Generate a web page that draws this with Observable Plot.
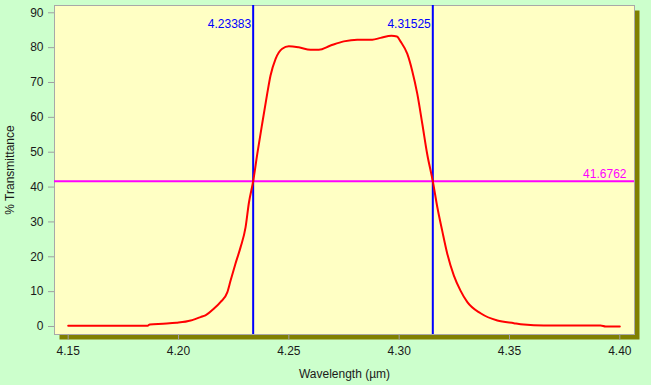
<!DOCTYPE html>
<html>
<head>
<meta charset="utf-8">
<script src="https://cdn.jsdelivr.net/npm/d3@7"></script>
<script src="https://cdn.jsdelivr.net/npm/@observablehq/plot@0.6"></script>
<style>
  html, body { margin: 0; padding: 0; background: #ccffcc; }
  #chart { width: 651px; height: 385px; overflow: hidden; }
</style>
</head>
<body>
<div id="chart"></div>
<script>
const wavelength = [4.150, 4.186, 4.187, 4.193, 4.199, 4.2055, 4.2078, 4.2100, 4.2122, 4.2160, 4.2190, 4.2221, 4.2236, 4.2258, 4.2281, 4.2304, 4.2319, 4.23383, 4.2357, 4.2379, 4.2402, 4.2417, 4.2440, 4.2470, 4.2500, 4.2545, 4.2598, 4.2636, 4.2689, 4.2749, 4.2810, 4.2878, 4.2916, 4.2965, 4.2990, 4.3006, 4.3037, 4.3059, 4.3082, 4.3105, 4.3127, 4.31525, 4.3173, 4.3195, 4.3218, 4.3248, 4.3278, 4.3309, 4.3369, 4.3445, 4.3520, 4.3565, 4.3656, 4.3913, 4.3936, 4.400];
const transmittance = [0.2, 0.2, 0.6, 0.8, 1.05, 1.7, 2.2, 2.7, 3.2, 5.1, 7.0, 9.8, 13.2, 18.0, 22.7, 28.5, 35.5, 41.68, 49.5, 58.1, 66.8, 72.0, 76.8, 79.7, 80.4, 80.1, 79.4, 79.4, 80.6, 81.8, 82.3, 82.3, 82.8, 83.4, 83.2, 81.8, 78.2, 73.4, 66.8, 58.1, 49.5, 41.68, 34.2, 27.5, 20.9, 14.6, 10.3, 7.0, 3.8, 1.7, 0.95, 0.57, 0.29, 0.29, 0.0, 0.0];
const cutoffWavelengths = [4.23383, 4.31525];
const cutoffLabels = ["4.23383", "4.31525"];
const halfLevel = [41.6762];
const halfLabel = ["41.6762"];
const xTicks = [4.15, 4.20, 4.25, 4.30, 4.35, 4.40];
const yTicks = [0, 10, 20, 30, 40, 50, 60, 70, 80, 90];

const data = wavelength.map((w, i) => ({w, t: transmittance[i]}));

const chart = Plot.plot({
  width: 651,
  height: 385,
  marginLeft: 54,
  marginRight: 17,
  marginTop: 5,
  marginBottom: 51,
  style: {background: "#ccffcc", fontFamily: "'Liberation Sans', Arial, sans-serif", fontSize: "12px", color: "#1a1a1a"},
  x: {domain: [4.14379, 4.40666]},
  y: {domain: [-2.295, 92.09]},
  marks: [
    Plot.frame({fill: "#808000", stroke: null, dx: 5, dy: 5}),
    Plot.frame({fill: "#ffffc4", stroke: "#a8a8a8"}),
    Plot.ruleY(halfLevel, {stroke: "#ff00ff", strokeWidth: 2}),
    Plot.ruleX(cutoffWavelengths, {stroke: "#0000ff", strokeWidth: 2}),
    Plot.line(data, {x: "w", y: "t", stroke: "#ff0000", strokeWidth: 2, curve: "monotone-x"}),
    Plot.text(cutoffWavelengths, {x: d => d, text: (d, i) => cutoffLabels[i], frameAnchor: "top", textAnchor: "end", dx: -2, dy: 14, fill: "#0000ff", fontSize: 12}),
    Plot.text(halfLevel, {y: d => d, text: (d, i) => halfLabel[i], frameAnchor: "right", textAnchor: "end", lineAnchor: "bottom", dx: -8, dy: -3, fill: "#ff00ff", fontSize: 12}),
    Plot.axisX({ticks: xTicks, tickFormat: d3.format(".2f"), tickSize: 6, tickPadding: 6, stroke: "#a0a0a0", fill: "#1a1a1a", label: "Wavelength (µm)", labelAnchor: "center", labelArrow: "none", labelOffset: 43}),
    Plot.axisY({ticks: yTicks, tickSize: 6, tickPadding: 5, stroke: "#a0a0a0", fill: "#1a1a1a", label: "% Transmittance", labelAnchor: "center", labelArrow: "none", labelOffset: 49})
  ]
});
document.getElementById("chart").appendChild(chart);
</script>
</body>
</html>
